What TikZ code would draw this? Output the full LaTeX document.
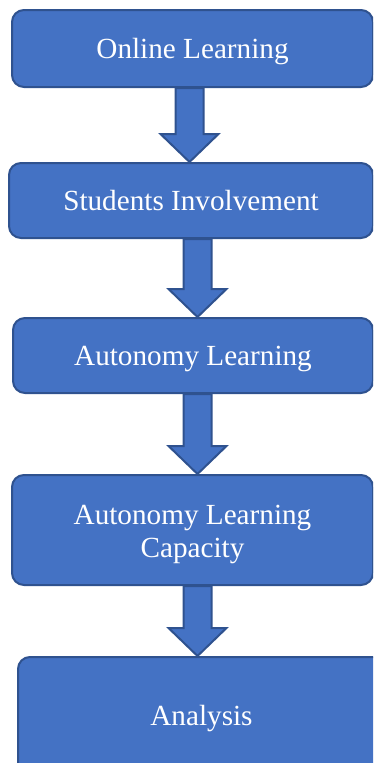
\documentclass[tikz,border=0pt]{standalone}
\usepackage{fontspec}
\setmainfont{Liberation Serif}
\usetikzlibrary{calc}
\definecolor{boxblue}{HTML}{4472C4}
\definecolor{boxline}{HTML}{2F528F}
\tikzset{
  stage/.style = {draw = boxline, fill = boxblue, line width = 2pt, rounded corners = 12pt,
    text = white, align = center, font = \fontsize{29.2}{33}\selectfont,
    text height = 26pt, text depth = 6.3pt},
  fatarrow/.style = {draw = boxline, fill = boxblue, line width = 2pt, line join = miter}
}
\newcommand{\flowarrow}[3]{%
  \draw [fatarrow] ($(#1.south -| #3)+(-14,0)$) --++ (28,0) -- ($(#2.north -| #3)+(14,-28)$)
    --++ (15,0) -- (#2.north -| #3) --++ (-29,-28) --++ (15,0) -- cycle;}
\begin{document}
\begin{tikzpicture}[x = 1pt, y = -1pt]
      \clip (0,0) rectangle (373,763);
      \node [stage, minimum width = 361pt, minimum height = 77pt] (online) at (192.5,48.5) {Online Learning};
      \node [stage, minimum width = 364pt, minimum height = 75pt] (involve) at (191,200.5) {Students Involvement};
      \node [stage, minimum width = 360pt, minimum height = 75pt] (autonomy) at (193,355.5) {Autonomy Learning};
      \node [stage, text height =, text depth =, minimum width = 361pt, minimum height = 110pt] (capacity) at (192.5,530)
        {\rule{0pt}{28pt}Autonomy Learning\\Capacity};
      \node [stage, minimum width = 367pt, minimum height = 118pt] (analysis) at (201.5,716) {Analysis};
      \coordinate (ax1) at (189.5,0);
      \coordinate (ax2) at (197.5,0);
      \flowarrow{online}{involve}{ax1}
      \flowarrow{involve}{autonomy}{ax2}
      \flowarrow{autonomy}{capacity}{ax2}
      \flowarrow{capacity}{analysis}{ax2}
      \end{tikzpicture}
\end{document}
